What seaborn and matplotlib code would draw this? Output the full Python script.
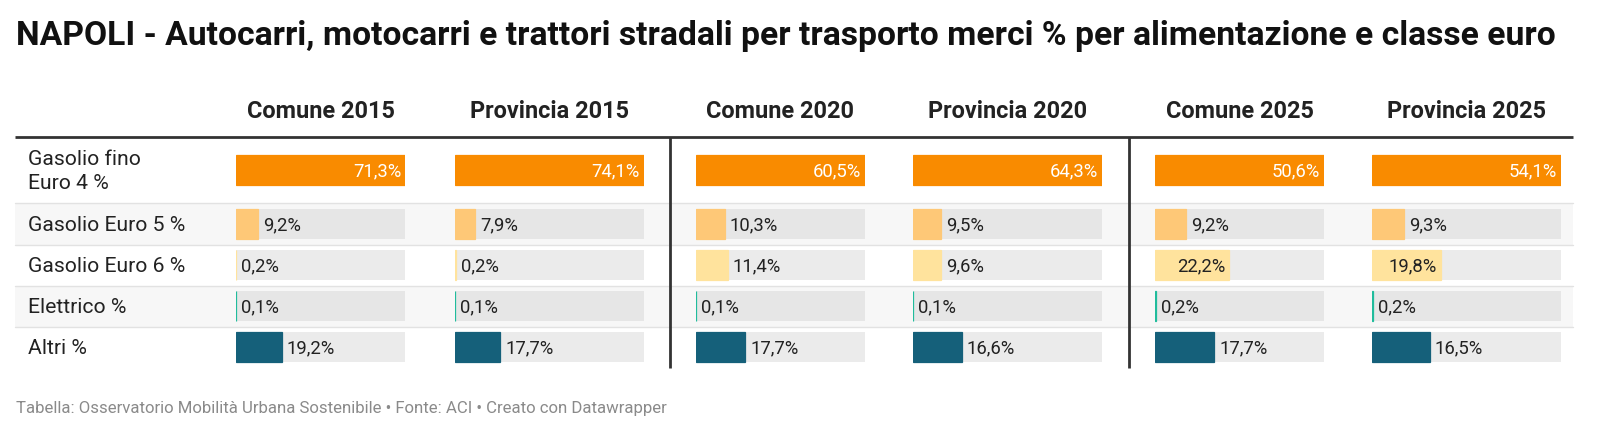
import matplotlib
matplotlib.use("Agg")
import matplotlib.pyplot as plt
import seaborn as sns
import pandas as pd
import numpy as np

# ---------------- data ----------------
title = "NAPOLI - Autocarri, motocarri e trattori stradali per trasporto merci % per alimentazione e classe euro"
footer = "Tabella: Osservatorio Mobilità Urbana Sostenibile • Fonte: ACI • Creato con Datawrapper"
row_labels = ["Gasolio fino\nEuro 4 %", "Gasolio Euro 5 %", "Gasolio Euro 6 %", "Elettrico %", "Altri %"]
column_labels = ["Comune 2015", "Provincia 2015", "Comune 2020", "Provincia 2020", "Comune 2025", "Provincia 2025"]
comune_2015 = [71.3, 9.2, 0.2, 0.1, 19.2]
provincia_2015 = [74.1, 7.9, 0.2, 0.1, 17.7]
comune_2020 = [60.5, 10.3, 11.4, 0.1, 17.7]
provincia_2020 = [64.3, 9.5, 9.6, 0.1, 16.6]
comune_2025 = [50.6, 9.2, 22.2, 0.2, 17.7]
provincia_2025 = [54.1, 9.3, 19.8, 0.2, 16.5]
columns_values = [comune_2015, provincia_2015, comune_2020, provincia_2020, comune_2025, provincia_2025]
row_colors = ["#f98b00", "#fec877", "#ffe39d", "#20bc9c", "#15607a"]

# ---------------- layout (pixels) ----------------
W, H = 1600, 434
sns.set_theme(style="white")
plt.rcParams["font.family"] = ["Roboto", "DejaVu Sans"]

fig = plt.figure(figsize=(W / 100, H / 100), dpi=100)
bg = fig.add_axes([0, 0, 1, 1])
bg.set_xlim(0, W)
bg.set_ylim(H, 0)
bg.axis("off")

table_top = 137
row_heights = [66, 41.5, 41, 41, 41]
bounds = np.concatenate([[table_top], table_top + np.cumsum(row_heights)])
centers = (bounds[:-1] + bounds[1:]) / 2
table_bottom = bounds[-1]
left, right = 15, 1573
bar_h = 30

col_starts = [236, 455, 696, 913, 1155, 1372]
col_widths = [169, 189, 169, 189, 169, 189]
dividers = [670, 1129]

dark = "#222222"
fs_val = 13.3
fs_row = 15.2
text_dy = 1.5  # optical centering of text in rows (pixels)

# title / footer
bg.text(16, 36, title, fontsize=24.2, fontweight="bold", color="#111111", va="center", ha="left")
bg.text(16, 409, footer, fontsize=12.1, color="#8a8a8a", va="center", ha="left")

# striped rows + separators
for i in range(len(row_labels)):
    if i % 2 == 1:
        bg.fill_between([left, right], bounds[i], bounds[i + 1], color="#f7f7f7", lw=0, zorder=0)
    if i > 0:
        bg.plot([left, right], [bounds[i], bounds[i]], color="#e2e2e2", lw=1.0, zorder=1)

# header line and dividers
bg.plot([left, right], [table_top, table_top], color="#333333", lw=2.0, zorder=3, solid_capstyle="butt")
for dx in dividers:
    bg.plot([dx, dx], [table_top, table_bottom], color="#333333", lw=2.0, zorder=3, solid_capstyle="butt")

# row labels
for lab, cy in zip(row_labels, centers):
    lines = lab.split("\n")
    n = len(lines)
    for k, line in enumerate(lines):
        yy = cy + text_dy + (k - (n - 1) / 2) * 23.5
        bg.text(28, yy, line, fontsize=fs_row, color=dark, va="center", ha="left")

# columns
for col_lab, vals, x0, w in zip(column_labels, columns_values, col_starts, col_widths):
    bg.text(x0 + w / 2, 111, col_lab, fontsize=16.9, fontweight="bold", color=dark, va="center", ha="center")
    ax = fig.add_axes([x0 / W, (H - table_bottom) / H, w / W, (table_bottom - table_top) / H])
    ax.patch.set_alpha(0)
    vmax = max(vals)
    bgcols = ["#ffffff" if i == 0 else ("#e6e6e6" if i % 2 == 1 else "#ebebeb") for i in range(len(vals))]
    ax.barh(centers, [vmax] * len(vals), height=bar_h, color=bgcols, lw=0, zorder=0)
    n_bg = len(ax.patches)
    df = pd.DataFrame({"value": vals, "ypos": centers, "row": row_labels})
    sns.barplot(data=df, x="value", y="ypos", hue="row", hue_order=row_labels,
                palette=dict(zip(row_labels, row_colors)), orient="h", native_scale=True,
                dodge=False, legend=False, width=bar_h / 41.0, saturation=1, ax=ax, zorder=2)
    for p in ax.patches[n_bg:]:
        p.set_edgecolor(p.get_facecolor())
        p.set_linewidth(0.9)
    ax.set_xlim(0, vmax)
    ax.set_ylim(table_bottom, table_top)
    ax.axis("off")
    for i, (v, cy) in enumerate(zip(vals, centers)):
        txt = f"{v:.1f}".replace(".", ",") + "%"
        px = v / vmax * w
        if px > 65:
            ax.annotate(txt, (v, cy), xytext=(-4, -text_dy), textcoords="offset pixels",
                        ha="right", va="center", fontsize=fs_val,
                        color="white" if i == 0 else dark, annotation_clip=False)
        else:
            ax.annotate(txt, (v, cy), xytext=(5, -text_dy), textcoords="offset pixels",
                        ha="left", va="center", fontsize=fs_val, color=dark, annotation_clip=False)

fig.savefig("out.png", dpi=100)
